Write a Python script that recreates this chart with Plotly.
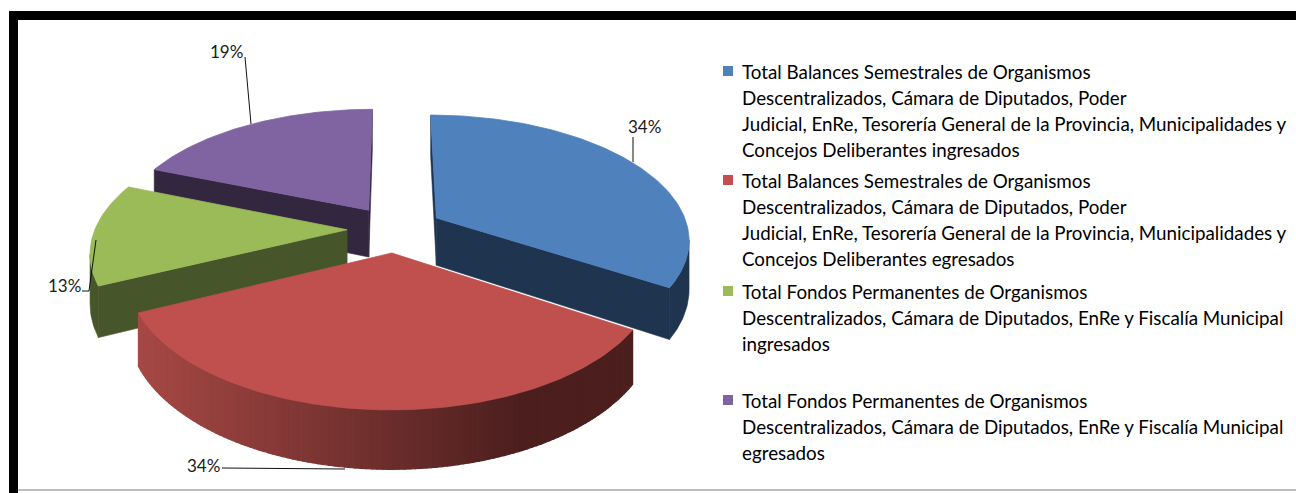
import numpy as np
import plotly.graph_objects as go

# ---------------- data ----------------
categories = [
    ["Total Balances Semestrales de Organismos",
     "Descentralizados, Cámara de Diputados, Poder",
     "Judicial, EnRe, Tesorería General de la Provincia, Municipalidades y",
     "Concejos Deliberantes ingresados"],
    ["Total Balances Semestrales de Organismos",
     "Descentralizados, Cámara de Diputados, Poder",
     "Judicial, EnRe, Tesorería General de la Provincia, Municipalidades y",
     "Concejos Deliberantes egresados"],
    ["Total Fondos Permanentes de Organismos",
     "Descentralizados, Cámara de Diputados, EnRe y Fiscalía Municipal",
     "ingresados"],
    ["Total Fondos Permanentes de Organismos",
     "Descentralizados, Cámara de Diputados, EnRe y Fiscalía Municipal",
     "egresados"],
]
values = [34, 34, 13, 19]

# ---------------- styles ----------------
top_colors = ["#4F81BD", "#C0504D", "#9BBB59", "#8064A2"]
side_colors = ["#1F344F", None, "#46552A", "#33263F"]
grad_left = np.array([166, 72, 69])
grad_right = np.array([76, 31, 30])

W, HGT = 1296, 493
CX, CY = 395.0, 229.0      # pie centre (pixels)
A, B = 252.0, 122.8        # ellipse semi axes
K = 0.1617                 # perspective factor
E = 0.19                   # explosion
H = 48.0                   # thickness

def proj(u, v, drop=0.0):
    s = 1.0 / (1.0 + K * v)
    return CX + A * u * s, CY - B * v * s + drop * s

def area(pts):
    a = 0.0
    for i in range(len(pts)):
        x1, y1 = pts[i]
        x2, y2 = pts[(i + 1) % len(pts)]
        a += x1 * y2 - x2 * y1
    return a

def poly(fig, pts, color, lw=0.6):
    xs = [p[0] for p in pts] + [pts[0][0]]
    ys = [p[1] for p in pts] + [pts[0][1]]
    fig.add_trace(go.Scatter(x=xs, y=ys, mode="lines", fill="toself",
                             fillcolor=color, line=dict(color=color, width=lw),
                             hoverinfo="skip", showlegend=False))

total = float(sum(values))
cum = np.concatenate([[0.0], np.cumsum(values)]) / total * 360.0

slices = []
for i, v in enumerate(values):
    t0, t1 = cum[i], cum[i + 1]
    mid = np.radians((t0 + t1) / 2)
    ou, ov = E * np.sin(mid), E * np.cos(mid)
    n = max(10, int((t1 - t0) / 1.0))
    th = np.radians(np.linspace(t0, t1, n + 1))
    arc = [(np.sin(t) + ou, np.cos(t) + ov) for t in th]
    slices.append(dict(i=i, ou=ou, ov=ov, arc=arc))

fig = go.Figure()

# draw far-to-near
for sl in sorted(slices, key=lambda d: -d["ov"]):
    i = sl["i"]
    ou, ov, arc = sl["ou"], sl["ov"], sl["arc"]
    apex_t = proj(ou, ov)
    apex_b = proj(ou, ov, H)
    sc = side_colors[i] if side_colors[i] else "#6E2A28"
    for idx, is_end in ((0, False), (-1, True)):
        c_t = proj(*arc[idx])
        c_b = proj(*arc[idx], H)
        quad = [apex_t, c_t, c_b, apex_b]
        a = area(quad)
        if (is_end and a > 0) or ((not is_end) and a < 0):
            poly(fig, quad, sc)
    strips = []
    for j in range(len(arc) - 1):
        p1t, p2t = proj(*arc[j]), proj(*arc[j + 1])
        p1b, p2b = proj(*arc[j], H), proj(*arc[j + 1], H)
        q = [p1t, p2t, p2b, p1b]
        if area(q) < 0:
            strips.append(q)
    if strips:
        if side_colors[i] is None:
            xs_all = [q[0][0] for q in strips]
            x0, x1 = min(xs_all), max(xs_all)
            for q in strips:
                t = (0.5 * (q[0][0] + q[1][0]) - x0) / max(x1 - x0, 1)
                t = min(1.0, t * 1.3)
                c = grad_left + (grad_right - grad_left) * t
                col = "rgb(%d,%d,%d)" % tuple(int(round(x)) for x in c)
                poly(fig, q, col, lw=1.2)
        else:
            tops = [q[0] for q in strips] + [strips[-1][1]]
            bots = [q[3] for q in strips] + [strips[-1][2]]
            poly(fig, tops + bots[::-1], side_colors[i])
    top = [apex_t] + [proj(*p) for p in arc]
    poly(fig, top, top_colors[i], lw=0.8)

# ---------------- data labels ----------------
label_pos = [(644, 126), (203, 465), (64, 285), (226, 51)]
leaders = [
    [(633, 137), (633, 162)],
    [(222, 468), (345, 469)],
    [(82, 291), (89, 291), (96, 240)],
    [(245, 57), (251, 124)],
]
for i, v in enumerate(values):
    pct = "%d%%" % round(100 * v / total)
    fig.add_annotation(x=label_pos[i][0], y=label_pos[i][1], text=pct,
                       showarrow=False, xref="x", yref="y",
                       font=dict(family="Lato", size=17, color="#1a1a1a"))
    pts = leaders[i]
    fig.add_trace(go.Scatter(x=[p[0] for p in pts], y=[p[1] for p in pts],
                             mode="lines", line=dict(color="#111111", width=1),
                             hoverinfo="skip", showlegend=False))

# ---------------- legend ----------------
legend_rows = [[71, 97, 123, 149], [180, 206, 232, 258], [291, 317, 343], [400, 426, 452]]
for i, lines in enumerate(categories):
    ys = legend_rows[i]
    fig.add_shape(type="rect", xref="x", yref="y", x0=723, x1=733,
                  y0=ys[0] - 5, y1=ys[0] + 5, fillcolor=top_colors[i],
                  line=dict(width=0))
    for ln, y in zip(lines, ys):
        fig.add_annotation(x=740, y=y, text=ln, showarrow=False, xref="x", yref="y",
                           xanchor="left", yanchor="middle",
                           font=dict(family="Lato", size=18.8, color="#000000"))

# ---------------- frame ----------------
fig.add_shape(type="rect", xref="x", yref="y", x0=9, x1=W, y0=11, y1=20,
              fillcolor="black", line=dict(width=0))
fig.add_shape(type="rect", xref="x", yref="y", x0=9, x1=18, y0=11, y1=HGT,
              fillcolor="black", line=dict(width=0))
fig.add_shape(type="line", xref="x", yref="y", x0=18, x1=W, y0=490, y1=490,
              line=dict(color="#BDBDBD", width=2))

fig.update_layout(
    width=W, height=HGT, margin=dict(l=0, r=0, t=0, b=0),
    paper_bgcolor="white", plot_bgcolor="white", showlegend=False,
    xaxis=dict(range=[0, W], visible=False, fixedrange=True),
    yaxis=dict(range=[HGT, 0], visible=False, fixedrange=True),
)
fig.write_html(
    "out.html",
    config={"displayModeBar": False},
    post_script="document.body.style.margin='0';document.body.style.overflow='hidden';",
)
